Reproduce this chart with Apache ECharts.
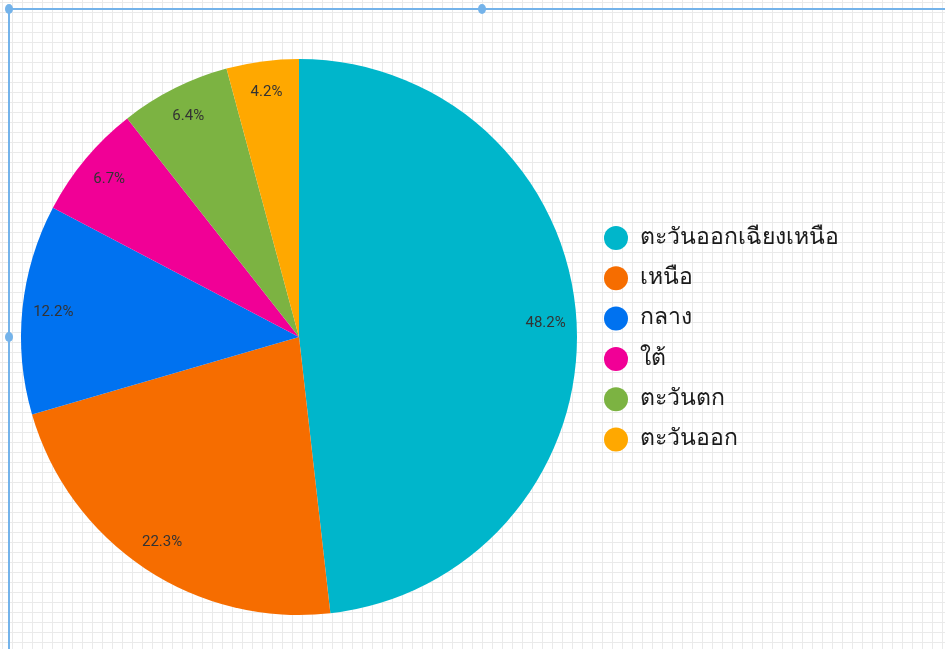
<!DOCTYPE html>
<html>
<head>
<meta charset="utf-8">
<script src="https://cdn.jsdelivr.net/npm/echarts@6/dist/echarts.min.js"></script>
<style>
  html, body { margin: 0; padding: 0; width: 945px; height: 649px; overflow: hidden; background: #fff; }
  body {
    background-image:
      linear-gradient(#eaeaea 1px, transparent 1px),
      linear-gradient(90deg, #eaeaea 1px, transparent 1px);
    background-size: 10px 10px;
    background-position: 2px 2px;
  }
  #chart { position: absolute; left: 0; top: 0; width: 945px; height: 649px; }
  .hline { position: absolute; left: 9px; top: 8px; width: 936px; height: 2px; background: #74b3ea; }
  .vline { position: absolute; left: 8px; top: 8px; width: 2px; height: 641px; background: #74b3ea; }
  .handle { position: absolute; width: 8px; height: 10px; border-radius: 50%; background: #74b3ea; }
</style>
</head>
<body>
<div class="hline"></div>
<div class="vline"></div>
<div class="handle" style="left:5px;top:4px"></div>
<div class="handle" style="left:478px;top:4px"></div>
<div class="handle" style="left:5px;top:332px"></div>
<div id="chart"></div>
<script>
const categories = ['ตะวันออกเฉียงเหนือ', 'เหนือ', 'กลาง', 'ใต้', 'ตะวันตก', 'ตะวันออก'];
const values = [48.2, 22.3, 12.2, 6.7, 6.4, 4.2];
const colors = ['#00b6cb', '#f66d00', '#0072f0', '#f10096', '#7cb342', '#ffa800'];

const chart = echarts.init(document.getElementById('chart'), null, { renderer: 'canvas' });
const data = categories.map((name, i) => ({ name, value: values[i], itemStyle: { color: colors[i] } }));
const labelData = categories.map((name, i) => ({ name, value: values[i] }));

chart.setOption({
  backgroundColor: 'transparent',
  color: colors,
  legend: {
    orient: 'vertical',
    left: 604,
    top: 226,
    padding: 0,
    icon: 'circle',
    itemWidth: 24,
    itemHeight: 24,
    itemGap: 16.3,
    selectedMode: false,
    textStyle: { fontSize: 23, color: '#1a1a1a', fontFamily: 'Roboto, "Noto Sans", sans-serif', padding: [0, 0, 0, 7] },
    data: categories
  },
  series: [
    {
      type: 'pie',
      center: [299, 337],
      radius: [0, 278],
      startAngle: 90,
      clockwise: true,
      label: { show: false },
      labelLine: { show: false },
      emphasis: { disabled: true },
      itemStyle: { borderWidth: 0 },
      data: data
    },
    {
      type: 'pie',
      center: [299, 337],
      radius: [210, 278],
      startAngle: 90,
      clockwise: true,
      silent: true,
      legendHoverLink: false,
      itemStyle: { color: 'rgba(0,0,0,0)' },
      label: {
        show: true,
        position: 'inside',
        formatter: (p) => p.value.toFixed(1) + '%',
        fontSize: 15,
        color: '#333',
        padding: [4, 0, 0, 0],
        fontFamily: 'Roboto, "Noto Sans", sans-serif'
      },
      labelLine: { show: false },
      emphasis: { disabled: true },
      data: labelData
    }
  ]
});
</script>
</body>
</html>
